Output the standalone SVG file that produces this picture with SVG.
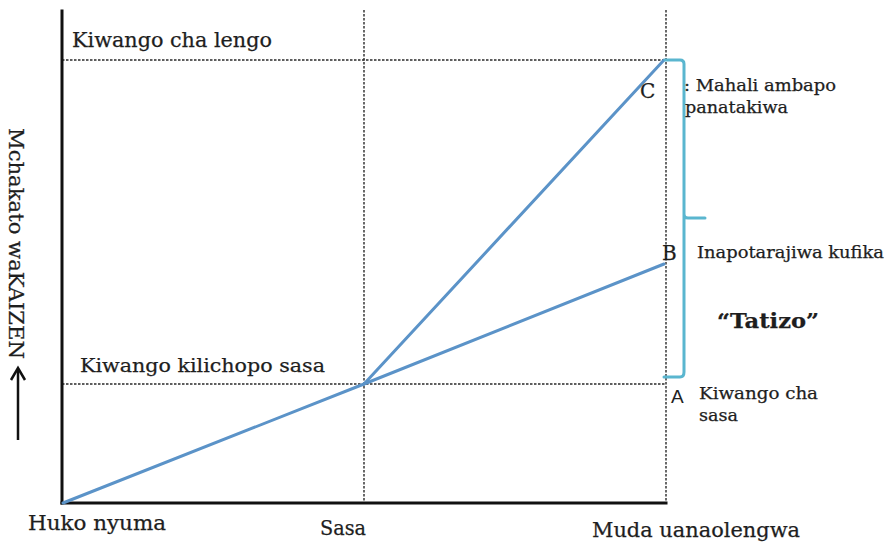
<svg xmlns="http://www.w3.org/2000/svg" width="887" height="542" viewBox="0 0 887 542">
  <defs>
    <style>
      .lbl { font-family: "DejaVu Serif", "Liberation Serif", serif; fill: #1e1e1e; stroke: #1e1e1e; stroke-width: 0.25; }
      .axis { stroke: #111; stroke-width: 3; fill: none; stroke-linecap: square; }
      .grid { stroke: #2a2a2a; stroke-width: 1.4; stroke-dasharray: 2.5 1.5; fill: none; }
      .trend { stroke: #5b93c8; stroke-width: 3; fill: none; stroke-linecap: round; }
      .brace { stroke: #5ab6cf; stroke-width: 3; fill: none; stroke-linejoin: round; stroke-linecap: round; }
      .arrow { stroke: #111; stroke-width: 2.5; fill: none; }
    </style>
  </defs>

  <rect width="887" height="542" fill="#fff"/>

  <!-- reference grid -->
  <g id="grid">
    <line class="grid" x1="62" y1="60" x2="666" y2="60"/>
    <line class="grid" x1="62" y1="384" x2="666" y2="384"/>
    <line class="grid" x1="364" y1="10" x2="364" y2="503"/>
    <line class="grid" x1="666" y1="10" x2="666" y2="503"/>
  </g>

  <!-- axes -->
  <g id="axes">
    <line class="axis" x1="62" y1="11" x2="62" y2="503"/>
    <line class="axis" x1="62" y1="503" x2="666" y2="503"/>
  </g>

  <!-- connectors: trend lines, brace and axis arrow -->
  <g id="connectors">
    <line class="trend" x1="63" y1="503" x2="364" y2="384"/>
    <line class="trend" x1="364" y1="384" x2="664" y2="60"/>
    <line class="trend" x1="364" y1="384" x2="664" y2="264"/>
    <path class="brace" d="M665,60 L680,60 Q684,60 684,64 L684,214 Q684,218 688,218 L705,218 M684,214 Q684,218 684,222 L684,372 Q684,377 680,377 L664,377"/>
    <line class="arrow" x1="18" y1="440" x2="18" y2="369"/>
    <path class="arrow" d="M11,380 L18,368 L25,380" stroke-linejoin="miter"/>
  </g>

  <!-- axis labels -->
  <g id="y-label">
    <text class="lbl" font-size="20" transform="translate(9,128) rotate(90)" textLength="231" lengthAdjust="spacingAndGlyphs">Mchakato waKAIZEN</text>
  </g>
  <g id="x-labels">
    <text class="lbl" x="28" y="530" font-size="21" textLength="138" lengthAdjust="spacingAndGlyphs">Huko nyuma</text>
    <text class="lbl" x="320" y="535" font-size="20" textLength="46" lengthAdjust="spacingAndGlyphs">Sasa</text>
    <text class="lbl" x="592" y="537" font-size="21" textLength="208" lengthAdjust="spacingAndGlyphs">Muda uanaolengwa</text>
  </g>

  <!-- level labels -->
  <g id="target-level">
    <text class="lbl" x="72" y="47" font-size="20" textLength="200" lengthAdjust="spacingAndGlyphs">Kiwango cha lengo</text>
  </g>
  <g id="current-level">
    <text class="lbl" x="80" y="372" font-size="19" textLength="245" lengthAdjust="spacingAndGlyphs">Kiwango kilichopo sasa</text>
  </g>

  <!-- point C -->
  <g id="point-c">
    <text class="lbl" x="640" y="98" font-size="20">C</text>
    <text class="lbl" x="684" y="91" font-size="16" textLength="152" lengthAdjust="spacingAndGlyphs">: Mahali ambapo</text>
    <text class="lbl" x="685" y="113" font-size="16" textLength="103" lengthAdjust="spacingAndGlyphs">panatakiwa</text>
  </g>

  <!-- point B -->
  <g id="point-b">
    <text class="lbl" x="662" y="260" font-size="20">B</text>
    <text class="lbl" x="697" y="258" font-size="16" textLength="187" lengthAdjust="spacingAndGlyphs">Inapotarajiwa kufika</text>
  </g>

  <!-- gap label -->
  <g id="gap">
    <text class="lbl" x="717" y="328" font-size="20" font-weight="bold" textLength="102" lengthAdjust="spacingAndGlyphs">“Tatizo”</text>
  </g>

  <!-- point A -->
  <g id="point-a">
    <text x="671" y="403" font-size="19" font-family="'Liberation Sans', Arial, sans-serif" fill="#222">A</text>
    <text class="lbl" x="699" y="399" font-size="16" textLength="119" lengthAdjust="spacingAndGlyphs">Kiwango cha</text>
    <text class="lbl" x="699" y="421" font-size="16" textLength="39" lengthAdjust="spacingAndGlyphs">sasa</text>
  </g>
</svg>
